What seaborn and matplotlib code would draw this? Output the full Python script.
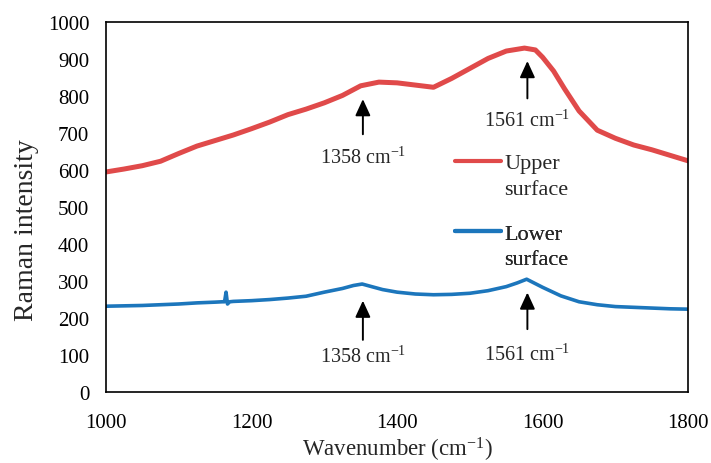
import pandas as pd
import seaborn as sns
import matplotlib.pyplot as plt
from matplotlib.lines import Line2D

# values (wavenumber in cm-1, intensity)
upper_x = [1000, 1025, 1050, 1075, 1100, 1125, 1150, 1175, 1200, 1225, 1250, 1275,
           1300, 1325, 1350, 1375, 1400, 1425, 1450, 1475, 1500, 1525, 1550, 1575,
           1590, 1600, 1615, 1630, 1650, 1675, 1700, 1725, 1750, 1775, 1800]
upper_y = [595, 603, 612, 624, 645, 665, 680, 695, 712, 730, 750, 765,
           782, 802, 828, 838, 836, 830, 824, 848, 875, 902, 922, 930,
           925, 905, 868, 820, 760, 708, 686, 668, 655, 640, 625]

lower_x = [1000, 1025, 1050, 1075, 1100, 1125, 1150, 1160, 1163, 1165, 1167, 1170,
           1175, 1200, 1225, 1250, 1275, 1300, 1325, 1340, 1352, 1365, 1380, 1400,
           1425, 1450, 1475, 1500, 1525, 1550, 1565, 1578, 1590, 1600, 1625, 1650,
           1675, 1700, 1725, 1750, 1775, 1800]
lower_y = [232, 233, 234, 236, 238, 241, 243, 244, 244, 270, 238, 244,
           245, 247, 250, 254, 259, 270, 280, 288, 292, 285, 277, 270,
           265, 263, 264, 267, 274, 285, 295, 305, 293, 283, 260, 244,
           236, 231, 229, 227, 225, 224]

series_names = ["Upper surface", "Lower surface"]
series_colors = ["#E04A4A", "#1C76BC"]

# peak markers: label, x, arrow tip, arrow tail, label y
peak_labels = ["1358 cm$^{-1}$", "1561 cm$^{-1}$", "1358 cm$^{-1}$", "1561 cm$^{-1}$"]
peak_x = [1353, 1579, 1353, 1579]
peak_tip = [792, 895, 247, 269]
peak_tail = [697, 794, 141, 170]
peak_text_y = [635, 735, 96, 101]

df = pd.concat([
    pd.DataFrame({"Wavenumber": upper_x, "Intensity": upper_y, "Sample": series_names[0]}),
    pd.DataFrame({"Wavenumber": lower_x, "Intensity": lower_y, "Sample": series_names[1]}),
])

sns.set_style("white")
plt.rcParams["font.family"] = ["Liberation Serif", "DejaVu Serif"]
plt.rcParams["mathtext.fontset"] = "custom"
plt.rcParams["mathtext.rm"] = "Liberation Serif"
plt.rcParams["mathtext.it"] = "Liberation Serif:italic"

fig = plt.figure(figsize=(7.11, 4.64), dpi=100)
ax = fig.add_axes([0.149, 0.153, 0.819, 0.797])

sns.lineplot(data=df, x="Wavenumber", y="Intensity", hue="Sample", palette=series_colors,
             hue_order=series_names, estimator=None, sort=False, legend=False, ax=ax)
ax.lines[0].set_linewidth(3.6)
ax.lines[1].set_linewidth(2.6)

for lab, x, tip, tail, ty in zip(peak_labels, peak_x, peak_tip, peak_tail, peak_text_y):
    ax.annotate("", xy=(x, tip), xytext=(x, tail),
                arrowprops=dict(arrowstyle="-|>,head_length=0.5,head_width=0.23",
                                color="black", lw=1.4, mutation_scale=20,
                                shrinkA=0, shrinkB=0))
    ax.text(x, ty, lab, ha="center", va="center", fontsize=14.5)

ax.set_xlim(1000, 1800)
ax.set_ylim(0, 1000)
ax.set_xticks(range(1000, 1801, 200))
ax.set_yticks(range(0, 1001, 100))
ax.tick_params(length=0, labelsize=15, colors="black")
ax.tick_params(axis="y", pad=12)
ax.tick_params(axis="x", pad=15)
ax.set_xlabel("Wavenumber (cm$^{-1}$)", fontsize=16.5, labelpad=2)
ax.set_ylabel("Raman intensity", fontsize=20)
ax.yaxis.set_label_coords(-0.115, 0.44)
for s in ax.spines.values():
    s.set_visible(True)
    s.set_color("black")
    s.set_linewidth(1.2)

# legend: one small block per series so the line sits beside the first word
blank = Line2D([], [], alpha=0)
for name, color, ytop in zip(series_names, series_colors, [0.647, 0.457]):
    first, second = name.split(" ")
    handle = Line2D([], [], color=color, lw=3)
    leg = ax.legend([handle, blank], [first, second], loc="upper left",
                    bbox_to_anchor=(0.6, ytop), frameon=False, fontsize=16,
                    handlelength=2.05, handletextpad=0.15, labelspacing=0.22,
                    borderpad=0, borderaxespad=0)
    ax.add_artist(leg)

fig.savefig("out.png", dpi=100)
